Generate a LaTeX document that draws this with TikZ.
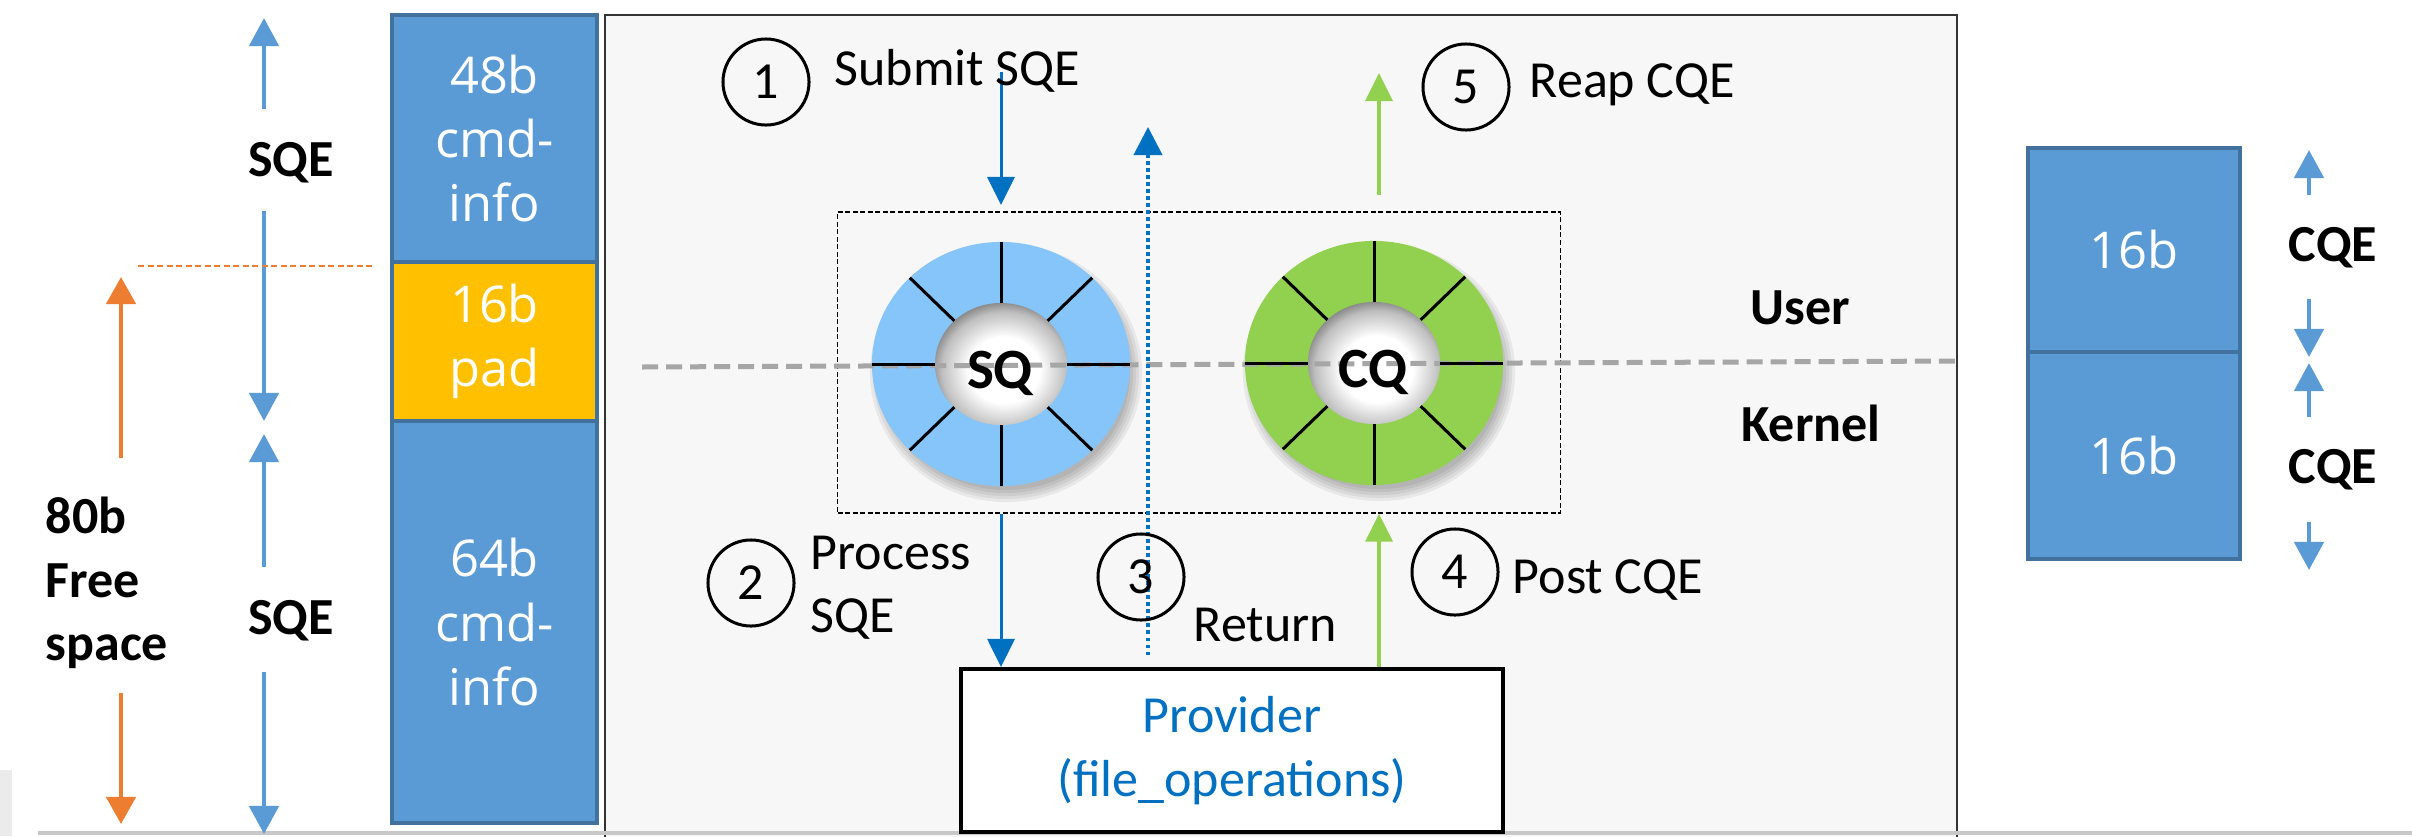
\documentclass[tikz,border=0pt]{standalone}
\usepackage{fontspec}
\setmainfont{Carlito}
\newfontfamily\blockfont{Open Sans}
\usetikzlibrary{arrows.meta,calc}
\definecolor{blk}{HTML}{5B9BD5}
\definecolor{blkedge}{HTML}{41719C}
\definecolor{padcol}{HTML}{FFC000}
\definecolor{dimblue}{HTML}{5B9BD5}
\definecolor{orng}{HTML}{ED7D31}
\definecolor{stepblue}{HTML}{0070C0}
\definecolor{grn}{HTML}{92D050}
\definecolor{sqfill}{HTML}{85C5FA}
\definecolor{framefill}{HTML}{F7F7F7}
\definecolor{dashgray}{HTML}{A6A6A6}
\newcommand\lblsize{\fontsize{14.8}{18}\selectfont}
\newcommand\qsize{\fontsize{16.2}{18}\selectfont}
\newcommand\cellsize{\fontsize{14.4}{18.2}\selectfont}
\pgfdeclareradialshading{holeshade}{\pgfpoint{0bp}{0bp}}{color(0bp)=(white); color(12bp)=(white); color(21bp)=(black!25); color(25bp)=(black!48); color(50bp)=(black!48)}
\tikzset{
 txt/.style={font=\lblsize, inner sep=0pt, align=left},
 btxt/.style={font=\lblsize\bfseries, inner sep=0pt, align=left},
 qtxt/.style={font=\qsize\bfseries, inner sep=0pt},
 cellbox/.style={draw=blkedge, line width=0.035cm, fill=blk, text=white, font=\blockfont\cellsize, align=center, inner sep=0pt, minimum width=2.05cm},
 padbox/.style={cellbox, fill=padcol},
 dimarr/.style={draw=dimblue, line width=0.045cm, -{Triangle[width=0.29cm,length=0.28cm]}},
 orarr/.style={draw=orng, line width=0.045cm, -{Triangle[width=0.29cm,length=0.27cm]}},
 steparr/.style={draw=stepblue, line width=0.03cm, -{Triangle[width=0.27cm,length=0.28cm]}},
 retarr/.style={draw=stepblue, line width=0.04cm, dash pattern=on 0.035cm off 0.035cm, -{Triangle[width=0.28cm,length=0.28cm]}},
 grnarr/.style={draw=grn, line width=0.035cm, -{Triangle[width=0.27cm,length=0.28cm]}},
 numc/.style={circle, draw=black, line width=0.03cm, minimum size=0.86cm, inner sep=0pt, font=\lblsize},
 spoke/.style={draw=black, line width=0.03cm},
 provbox/.style={draw=black, line width=0.04cm, fill=white, text=stepblue, font=\lblsize, align=center, minimum width=5.42cm, minimum height=1.63cm, inner sep=0pt},
 qboxst/.style={draw=black, line width=0.012cm, dash pattern=on 0.05cm off 0.025cm, minimum width=7.22cm, minimum height=3.01cm, inner sep=0pt},
}
\begin{document}
\begin{tikzpicture}[x=0.01cm,y=-0.01cm]
\useasboundingbox (0,0) rectangle (2412,836);
\clip (0,0) rectangle (2412,836);
\fill[white] (0,0) rectangle (2412,836);
% main frame
\draw[fill=framefill, draw=black!80, line width=0.02cm] (605,15) rectangle (1957,860);
% bottom artefacts
\fill[black!8] (0,770) rectangle (12,836);
\draw[black!22, line width=0.035cm] (38,833) -- (2412,833);
% left cells
\node[cellbox, minimum height=2.47cm] (c48) at (494.5,138.5) {48b\\cmd-\\info};
\node[padbox, minimum height=1.59cm] (c16) at (494.5,341.5) {16b\\pad};
\node[cellbox, minimum height=4.02cm] (c64) at (494.5,622) {64b\\cmd-\\info};
% right cells
\node[cellbox, minimum width=2.12cm, minimum height=2.04cm] (r1) at (2134,250) {16b};
\node[cellbox, minimum width=2.12cm, minimum height=2.07cm] (r2) at (2134,455.5) {16b};
% SQE dimension labels
\node[btxt] (sqeA) at (291,163) {SQE};
\node[btxt] (sqeB) at (291,621) {SQE};
\coordinate (sA1) at (264,109); \coordinate (sA1t) at (264,18);
\coordinate (sA2) at (264,211); \coordinate (sA2t) at (264,421);
\coordinate (sB1) at (264,567); \coordinate (sB1t) at (264,434);
\coordinate (sB2) at (264,672); \coordinate (sB2t) at (264,834);
\draw[dimarr] (sA1) -- (sA1t);
\draw[dimarr] (sA2) -- (sA2t);
\draw[dimarr] (sB1) -- (sB1t);
\draw[dimarr] (sB2) -- (sB2t);
% CQE dimension labels
\node[btxt] (cqeA) at (2333,248) {CQE};
\node[btxt] (cqeB) at (2333,470) {CQE};
\coordinate (cA1) at (2309,195); \coordinate (cA1t) at (2309,150);
\coordinate (cA2) at (2309,299); \coordinate (cA2t) at (2309,357);
\coordinate (cB1) at (2309,417); \coordinate (cB1t) at (2309,363);
\coordinate (cB2) at (2309,522); \coordinate (cB2t) at (2309,570);
\draw[dimarr] (cA1) -- (cA1t);
\draw[dimarr] (cA2) -- (cA2t);
\draw[dimarr] (cB1) -- (cB1t);
\draw[dimarr] (cB2) -- (cB2t);
% free space
\node[btxt, anchor=west] (free) at (45,583) {80b\\Free\\space};
\coordinate (o1) at (121,458); \coordinate (o1t) at (121,277);
\coordinate (o2) at (121,693); \coordinate (o2t) at (121,824);
\draw[orarr] (o1) -- (o1t);
\draw[orarr] (o2) -- (o2t);
\coordinate (odl) at (138,266); \coordinate (odr) at (372,266);
\draw[orng, line width=0.015cm, dash pattern=on 0.06cm off 0.035cm] (odl) -- (odr);
% queue box
\node[qboxst] (qbox) at (1199,362.5) {};
% rings
\coordinate (sq) at (1001,364);
\coordinate (cq) at (1374,363);
\foreach \cx/\cy/\col in {1001/364/sqfill,1374/363/grn}{
  \foreach \k in {0,1,2,3,4}{
    \fill[black,opacity=0.06] (\cx+5,\cy+9) ellipse [x radius={1.24cm+0.03cm*\k}, y radius={1.17cm+0.03cm*\k}];
  }
  \fill[\col] (\cx,\cy) ellipse [x radius=1.29cm, y radius=1.22cm];
  \begin{scope}
    \clip (\cx,\cy) ellipse [x radius=0.66cm, y radius=0.61cm];
    \shade[shading=holeshade] (\cx+3,\cy+6) ellipse [x radius=0.74cm, y radius=0.69cm];
  \end{scope}
}
% user / kernel boundary
\coordinate (ukl) at (642,367); \coordinate (ukr) at (1957,361);
\draw[dashgray, line width=0.05cm, dash pattern=on 0.16cm off 0.08cm] (ukl) -- (ukr);
\foreach \cx/\cy in {1001/364,1374/363}{
  \foreach \a in {0,45,...,315}{
    \draw[spoke] ({\cx+66*cos(\a)},{\cy+61*sin(\a)}) -- ({\cx+129*cos(\a)},{\cy+122*sin(\a)});
  }
}
\node[qtxt] (sqlbl) at (1000,373) {SQ};
\node[qtxt] (cqlbl) at (1373,372) {CQ};
\node[btxt] (user) at (1800,308) {User};
\node[btxt] (kern) at (1811,423) {Kernel};
% provider
\node[provbox] (prov) at (1232,750.5) {Provider\\(file\_operations)};
% step arrows
\coordinate (s1s) at (1001,72); \coordinate (s1t) at (1001,205);
\draw[steparr] (s1s) -- (s1t);
\draw[steparr] (qbox.south -| sq) -- (prov.north -| sq);
\coordinate (rets) at (1148,655); \coordinate (rett) at (1148,127);
\draw[retarr] (rets) -- (rett);
\coordinate (g4) at (1379,513);
\draw[grnarr] (prov.north -| g4) -- (qbox.south -| g4);
\coordinate (g5s) at (1379,195); \coordinate (g5t) at (1379,73);
\draw[grnarr] (g5s) -- (g5t);
% step numbers and labels
\node[numc] (n1) at (766,82) {1};
\node[numc] (n2) at (751,583) {2};
\node[numc] (n3) at (1141,577) {3};
\node[numc] (n4) at (1455,572) {4};
\node[numc] (n5) at (1466,87) {5};
\node[txt, anchor=base west] (t1) at (834,85) {Submit SQE};
\node[txt, anchor=west] (t2) at (810,588) {Process\\SQE};
\node[txt, anchor=base west] (t3) at (1193,641) {Return};
\node[txt, anchor=base west] (t4) at (1512,593) {Post CQE};
\node[txt, anchor=base west] (t5) at (1529,97) {Reap CQE};
\end{tikzpicture}
\end{document}
